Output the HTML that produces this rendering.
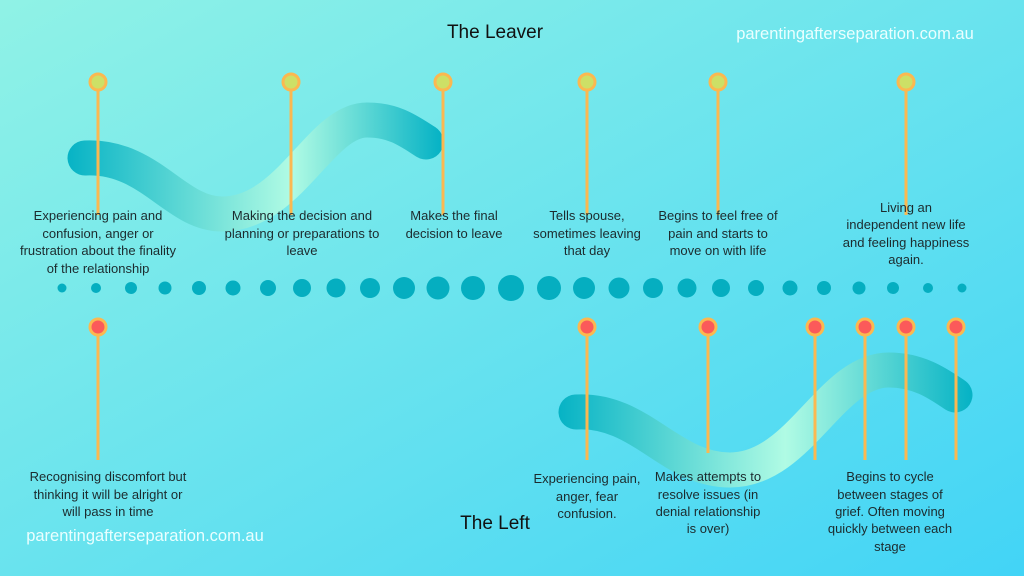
<!DOCTYPE html>
<html><head><meta charset="utf-8"><style>
html,body{margin:0;padding:0;width:1024px;height:576px;overflow:hidden}
svg{display:block}
text{font-family:"Liberation Sans",sans-serif}
</style></head><body>
<svg width="1024" height="576" viewBox="0 0 1024 576" xmlns="http://www.w3.org/2000/svg">
<defs>
<linearGradient id="bg" x1="0" y1="0" x2="1" y2="1">
<stop offset="0" stop-color="#90f2e6"/><stop offset="1" stop-color="#42d4f6"/>
</linearGradient>
<linearGradient id="w1" gradientUnits="userSpaceOnUse" x1="68" y1="0" x2="440" y2="0">
<stop offset="0" stop-color="#07b3c5"/><stop offset="0.6" stop-color="#b0fbe4"/><stop offset="1" stop-color="#07b3c5"/>
</linearGradient>
<linearGradient id="w2" gradientUnits="userSpaceOnUse" x1="560" y1="0" x2="970" y2="0">
<stop offset="0" stop-color="#07b3c5"/><stop offset="0.55" stop-color="#b0fbe4"/><stop offset="1" stop-color="#07b3c5"/>
</linearGradient>
</defs>
<rect width="1024" height="576" fill="url(#bg)"/>
<path d="M85 158 C150 155 175 214 222 214 C290 214 320 120 367 120 C395 120 410 132 426 142" fill="none" stroke="url(#w1)" stroke-width="35" stroke-linecap="round"/>
<path d="M576 412 C640 408 670 470 730 470 C800 470 830 370 889 370 C920 370 940 385 955 395" fill="none" stroke="url(#w2)" stroke-width="35" stroke-linecap="round"/>
<g stroke="#fbb850" stroke-width="3">
<line x1="98" y1="82" x2="98" y2="215"/><line x1="291" y1="82" x2="291" y2="215"/><line x1="443" y1="82" x2="443" y2="215"/><line x1="587" y1="82" x2="587" y2="215"/><line x1="718" y1="82" x2="718" y2="215"/><line x1="906" y1="82" x2="906" y2="215"/>
<line x1="98" y1="327" x2="98" y2="460"/><line x1="587" y1="327" x2="587" y2="460"/><line x1="708" y1="327" x2="708" y2="453"/><line x1="815" y1="327" x2="815" y2="460"/><line x1="865" y1="327" x2="865" y2="460"/><line x1="906" y1="327" x2="906" y2="460"/><line x1="956" y1="327" x2="956" y2="460"/>
</g>
<g fill="#cde066" stroke="#fbb850" stroke-width="3">
<circle cx="98" cy="82" r="8"/><circle cx="291" cy="82" r="8"/><circle cx="443" cy="82" r="8"/><circle cx="587" cy="82" r="8"/><circle cx="718" cy="82" r="8"/><circle cx="906" cy="82" r="8"/>
</g>
<g fill="#fb5a5a" stroke="#fbb850" stroke-width="3">
<circle cx="98" cy="327" r="8"/><circle cx="587" cy="327" r="8"/><circle cx="708" cy="327" r="8"/><circle cx="815" cy="327" r="8"/><circle cx="865" cy="327" r="8"/><circle cx="906" cy="327" r="8"/><circle cx="956" cy="327" r="8"/>
</g>
<g fill="#05aec0">
<circle cx="62" cy="288" r="4.5"/><circle cx="96" cy="288" r="5"/><circle cx="131" cy="288" r="6"/><circle cx="165" cy="288" r="6.5"/><circle cx="199" cy="288" r="7"/><circle cx="233" cy="288" r="7.5"/><circle cx="268" cy="288" r="8"/><circle cx="302" cy="288" r="9"/><circle cx="336" cy="288" r="9.5"/><circle cx="370" cy="288" r="10"/><circle cx="404" cy="288" r="11"/><circle cx="438" cy="288" r="11.5"/><circle cx="473" cy="288" r="12"/><circle cx="511" cy="288" r="13"/>
<circle cx="549" cy="288" r="12"/><circle cx="584" cy="288" r="11"/><circle cx="619" cy="288" r="10.5"/><circle cx="653" cy="288" r="10"/><circle cx="687" cy="288" r="9.5"/><circle cx="721" cy="288" r="9"/><circle cx="756" cy="288" r="8"/><circle cx="790" cy="288" r="7.5"/><circle cx="824" cy="288" r="7"/><circle cx="859" cy="288" r="6.5"/><circle cx="893" cy="288" r="6"/><circle cx="928" cy="288" r="5"/><circle cx="962" cy="288" r="4.5"/>
</g>
<g fill="#1c2b2e" font-size="13" text-anchor="middle">
<text x="98" y="220">Experiencing pain and</text><text x="98" y="238">confusion, anger or</text><text x="98" y="255">frustration about the finality</text><text x="98" y="273">of the relationship</text>
<text x="302" y="220">Making the decision and</text><text x="302" y="238">planning or preparations to</text><text x="302" y="255">leave</text>
<text x="454" y="220">Makes the final</text><text x="454" y="238">decision to leave</text>
<text x="587" y="220">Tells spouse,</text><text x="587" y="238">sometimes leaving</text><text x="587" y="255">that day</text>
<text x="718" y="220">Begins to feel free of</text><text x="718" y="238">pain and starts to</text><text x="718" y="255">move on with life</text>
<text x="906" y="212">Living an</text><text x="906" y="229">independent new life</text><text x="906" y="247">and feeling happiness</text><text x="906" y="264">again.</text>
<text x="108" y="481">Recognising discomfort but</text><text x="108" y="499">thinking it will be alright or</text><text x="108" y="516">will pass in time</text>
<text x="587" y="483">Experiencing pain,</text><text x="587" y="501">anger, fear</text><text x="587" y="518">confusion.</text>
<text x="708" y="481">Makes attempts to</text><text x="708" y="499">resolve issues (in</text><text x="708" y="516">denial relationship</text><text x="708" y="533">is over)</text>
<text x="890" y="481">Begins to cycle</text><text x="890" y="499">between stages of</text><text x="890" y="516">grief. Often moving</text><text x="890" y="533">quickly between each</text><text x="890" y="551">stage</text>
</g>
<text x="495" y="38" font-size="19" text-anchor="middle" fill="#111">The Leaver</text>
<text x="495" y="529" font-size="19" text-anchor="middle" fill="#111">The Left</text>
<text x="855" y="39" font-size="16.5" text-anchor="middle" fill="#eaffff">parentingafterseparation.com.au</text>
<text x="145" y="541" font-size="16.5" text-anchor="middle" fill="#eaffff">parentingafterseparation.com.au</text>
</svg>
</body></html>
